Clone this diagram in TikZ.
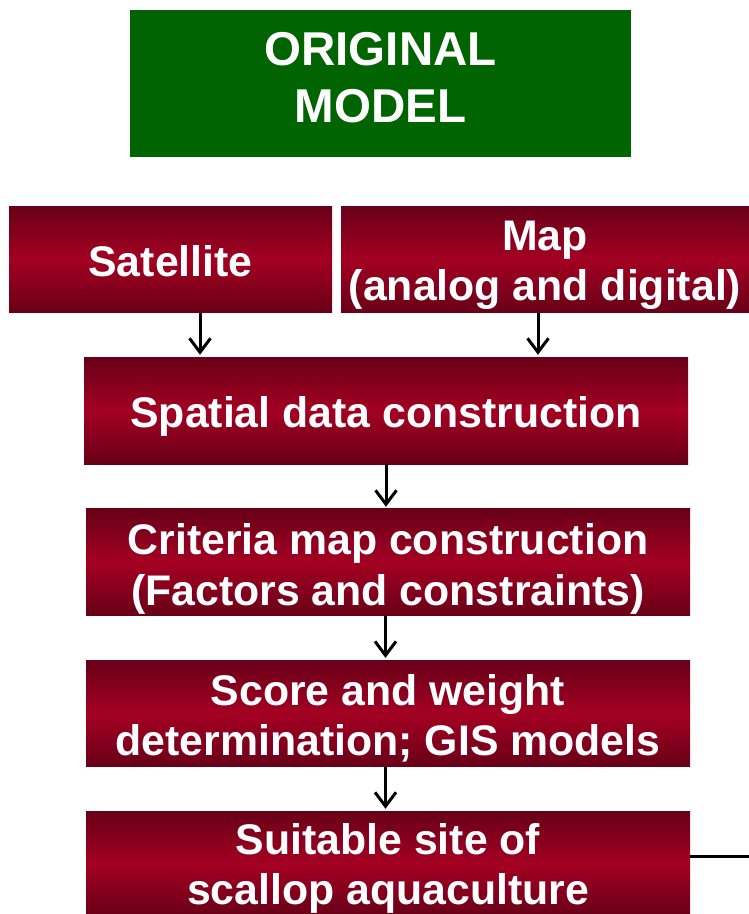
\documentclass[tikz,border=0pt]{standalone}
\usepackage{fontspec}
\setmainfont{Liberation Sans}
\usetikzlibrary{arrows.meta}
\definecolor{headgreen}{RGB}{0,100,0}
\definecolor{boxdark}{RGB}{104,0,24}
\definecolor{boxmid}{RGB}{164,0,34}
\begin{document}
\begin{tikzpicture}[x=1pt,y=-1pt]
        \tikzstyle{stepbox}=[inner sep=0pt,
          top color=boxdark, bottom color=boxdark, middle color=boxmid]
        \tikzstyle{steptext}=[inner sep=0pt, align=center, text=white,
          font=\fontsize{42.8}{50.5}\selectfont\bfseries]
        \tikzstyle{arr}=[line width=3pt, shorten >=2pt,
          -{Straight Barb[length=14pt,width=21pt,line width=3pt]}]
        \useasboundingbox (0,0) rectangle (749,914);
        \clip (0,0) rectangle (749,914);

        \path (380.5,83.5) node[fill=headgreen, inner sep=0pt,
          minimum width=501pt, minimum height=147pt] (head) {};
        \path (head.center) node[inner sep=0pt, text=white, align=center, yshift=5.5pt,
          font=\fontsize{47.5}{57}\selectfont\bfseries] (head-t) {ORIGINAL\\MODEL};

        \path (170.5,259.3) node[stepbox, minimum width=323pt, minimum height=106.6pt] (sat) {};
        \path (545,259.3) node[stepbox, minimum width=408pt, minimum height=106.6pt] (map) {};
        \path (386,410.5) node[stepbox, minimum width=604pt, minimum height=107pt] (spat) {};
        \path (388,562.2) node[stepbox, minimum width=604pt, minimum height=106.5pt] (crit) {};
        \path (388,713.3) node[stepbox, minimum width=604pt, minimum height=106.5pt] (score) {};
        \path (388,863.5) node[stepbox, minimum width=604pt, minimum height=105pt] (site) {};

        \path (sat.center) node[steptext, yshift=-2pt] (sat-t) {Satellite};
        \path (map.center) node[steptext, yshift=-6pt] (map-t) {Map\\(analog and digital)};
        \path (spat.center) node[steptext, yshift=-6pt] (spat-t) {Spatial data construction};
        \path (crit.center) node[steptext, yshift=-6.5pt] (crit-t) {Criteria map construction\\(Factors and constraints)};
        \path (score.center) node[steptext, yshift=-5pt] (score-t) {Score and weight\\determination; GIS models};
        \path (site.center) node[steptext, yshift=-5pt] (site-t) {Suitable site of\\scallop aquaculture};

        \draw[arr] ([xshift=29.5pt]sat.south) -- ([xshift=29.5pt]sat.south |- spat.north);
        \draw[arr] ([xshift=-7pt]map.south) -- ([xshift=-7pt]map.south |- spat.north);
        \draw[arr] (spat.south) -- (spat.south |- crit.north);
        \draw[arr] ([xshift=-2.5pt]crit.south) -- ([xshift=-2.5pt]crit.south |- score.north);
        \draw[arr] ([xshift=-2.5pt]score.south) -- ([xshift=-2.5pt]score.south |- site.north);

        \coordinate (out) at (749,856.5);
        \draw[line width=3.5pt] (out -| site.east) -- (out);
      \end{tikzpicture}
\end{document}
